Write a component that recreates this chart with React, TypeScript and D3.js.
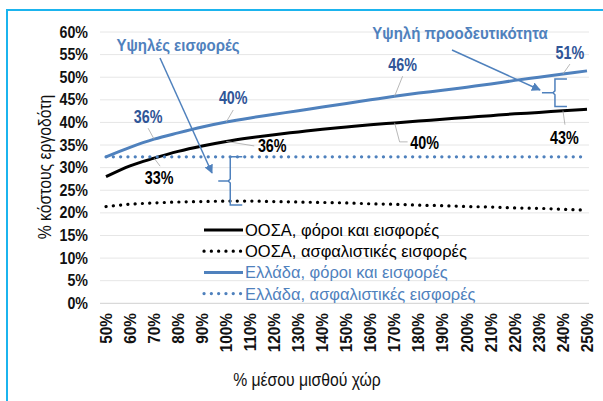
import * as d3 from 'd3'

// categories: % of average wage
const wageLevels = ['50%', '60%', '70%', '80%', '90%', '100%', '110%', '120%', '130%', '140%', '150%',
  '160%', '170%', '180%', '190%', '200%', '210%', '220%', '230%', '240%', '250%']

// series values (%)
const oecdTotal = [28.0, 30.4, 32.1, 33.6, 34.8, 35.8, 36.6, 37.3, 37.9, 38.5, 39.0,
  39.5, 39.9, 40.3, 40.7, 41.1, 41.5, 41.9, 42.2, 42.6, 42.9]
const oecdContrib = [21.4, 21.9, 22.2, 22.4, 22.5, 22.6, 22.6, 22.5, 22.4, 22.3, 22.2,
  22.0, 21.9, 21.7, 21.6, 21.4, 21.3, 21.1, 21.0, 20.8, 20.6]
const greeceTotal = [32.4, 34.5, 36.3, 37.7, 39.0, 40.1, 41.0, 41.8, 42.6, 43.4, 44.2,
  45.0, 45.8, 46.5, 47.1, 47.8, 48.5, 49.3, 50.0, 50.7, 51.4]
const greeceContrib = [32.4, 32.4, 32.4, 32.4, 32.4, 32.4, 32.4, 32.4, 32.4, 32.4, 32.4,
  32.4, 32.4, 32.4, 32.4, 32.4, 32.4, 32.4, 32.4, 32.4, 32.4]

const yTicks = [0, 5, 10, 15, 20, 25, 30, 35, 40, 45, 50, 55, 60]

const seriesNames = [
  'ΟΟΣΑ, φόροι και εισφορές',
  'ΟΟΣΑ, ασφαλιστικές εισφορές',
  'Ελλάδα, φόροι και εισφορές',
  'Ελλάδα, ασφαλιστικές εισφορές',
]

const BLACK = '#000000'
const BLUE = '#4F81BD'
const LABEL_BLUE = '#2F5597'
const FONT = '"Liberation Sans", Arial, sans-serif'

// data labels: series index, category, text, text offset, leader points
const dataLabels = [
  { s: 2, cat: '70%', text: '36%', tx: -6, ty: -22, leader: [[-6, -11]] },
  { s: 2, cat: '100%', text: '40%', tx: 7, ty: -24, leader: [[7, -12]] },
  { s: 2, cat: '170%', text: '46%', tx: 8, ty: -31, leader: [[8, -20]] },
  { s: 2, cat: '240%', text: '51%', tx: 7, ty: -21, leader: [[7, -10]] },
  { s: 0, cat: '70%', text: '33%', tx: 5, ty: 20, leader: [[6, 8]] },
  { s: 0, cat: '100%', text: '36%', tx: 46, ty: 4.5, leader: [[28, 4.5]] },
  { s: 0, cat: '170%', text: '40%', tx: 30, ty: 20, leader: [[5, 19], [13, 19]] },
  { s: 0, cat: '240%', text: '43%', tx: 1.5, ty: 27.5, leader: [[2, 14]] },
]

// text squeezed horizontally (the source uses a narrow face)
const T = ({ x, y, rot = 0, sx = 1, size, bold = false, fill = '#000', anchor = 'start', children }: any) => (
  <text transform={`translate(${x},${y}) rotate(${rot}) scale(${sx},1)`} dy='0.35em' textAnchor={anchor}
    fontFamily={FONT} fontWeight={bold ? 'bold' : 'normal'} fontSize={size} fill={fill}>{children}</text>
)

const App = () => {
  const width = 603
  const height = 401
  const plot = { left: 100, right: 589, top: 32, bottom: 303.3 }

  const x = d3.scalePoint<string>()
    .domain(wageLevels)
    .range([106, 587])
  const y = d3.scaleLinear()
    .domain([0, 60])
    .range([plot.bottom, plot.top])

  const all = [oecdTotal, oecdContrib, greeceTotal, greeceContrib]
  const styles = [
    { color: BLACK, dash: null },
    { color: BLACK, dash: '0.1 7.2' },
    { color: BLUE, dash: null },
    { color: BLUE, dash: '0.1 7.2' },
  ]

  const line = d3.line<number>()
    .x((_, i) => x(wageLevels[i]) as number)
    .y(d => y(d))
    .curve(d3.curveMonotoneX)

  // brace helper (left-pointing curly brace)
  const brace = (bx: number, y0: number, y1: number, arm: number, tip: number) => {
    const ym = (y0 + y1) / 2
    return `M${bx + arm},${y0} H${bx} V${ym - 2} L${bx - 2},${ym} H${bx - tip} M${bx - 2},${ym} L${bx},${ym + 2} V${y1} H${bx + arm}`
  }

  const b1x = (x('100%') as number) + 4
  const b2x = (x('240%') as number) - 8

  return (
    <svg width={width} height={height} style={{ position: 'absolute', left: 0, top: 0, background: '#fff' }}>
      <defs>
        <marker id='arr' viewBox='0 0 10 10' refX='9' refY='5' markerWidth='6' markerHeight='6' orient='auto'>
          <path d='M0,0 L10,5 L0,10 z' fill={BLUE} />
        </marker>
      </defs>

      {/* frame */}
      <path d={`M7,${height + 2} V10 H${width + 2}`} fill='none' stroke='#1BB4EE' strokeWidth={2} />

      {/* gridlines */}
      {yTicks.map(t => (
        <line key={t} x1={plot.left} x2={plot.right} y1={y(t)} y2={y(t)}
          stroke={t === 0 ? '#d0d0d0' : '#e6e6e6'} strokeWidth={1} />
      ))}

      {/* y tick labels */}
      {yTicks.map(t => (
        <T key={t} x={88} y={y(t)} anchor='end' sx={0.89} size={16} bold fill='#111'>{t}%</T>
      ))}

      {/* x tick labels */}
      {wageLevels.map(c => (
        <T key={c} x={x(c)} y={313} rot={-90} anchor='end' sx={0.93} size={16.5} bold fill='#111'>{c}</T>
      ))}

      {/* axis titles */}
      <T x={307} y={380} anchor='middle' sx={0.9} size={17.5} fill='#111'>% μέσου μισθού χώρ</T>
      <T x={45} y={167} rot={-90} anchor='middle' sx={0.9} size={17.5} fill='#111'>% κόστους εργοδότη</T>

      {/* series */}
      {all.map((s, i) => (
        <path key={i} d={line(s) || ''} fill='none' stroke={styles[i].color}
          strokeWidth={styles[i].dash ? 3.2 : 3}
          strokeDasharray={styles[i].dash || undefined}
          strokeLinecap={styles[i].dash ? 'round' : 'butt'} />
      ))}

      {/* data labels */}
      {dataLabels.map((l, k) => {
        const ax = x(l.cat) as number
        const ay = y(all[l.s][wageLevels.indexOf(l.cat)])
        const pts = [[0, 0], ...l.leader].map(p => `${ax + p[0]},${ay + p[1]}`).join(' L')
        return (
          <g key={k}>
            <path d={`M${pts}`} fill='none' stroke='#a6a6a6' strokeWidth={0.8} />
            <T x={ax + l.tx} y={ay + l.ty} anchor='middle' sx={0.82} size={17.5} bold
              fill={l.s === 2 ? LABEL_BLUE : '#000'}>{l.text}</T>
          </g>
        )
      })}

      {/* legend */}
      {seriesNames.map((n, i) => {
        const ly = 230 + i * 21.2
        return (
          <g key={n}>
            <line x1={204} x2={243} y1={ly} y2={ly} stroke={styles[i].color}
              strokeWidth={styles[i].dash ? 3.2 : 3}
              strokeDasharray={styles[i].dash || undefined}
              strokeLinecap={styles[i].dash ? 'round' : 'butt'} />
            <T x={245} y={ly} size={17} sx={0.97} fill={i < 2 ? '#000' : BLUE}>{n}</T>
          </g>
        )
      })}

      {/* annotations */}
      <T x={178} y={45} anchor='middle' sx={0.94} size={16} bold fill={BLUE}>Υψηλές εισφορές</T>
      <line x1={160} y1={58} x2={212} y2={173} stroke={BLUE} strokeWidth={1.5} markerEnd='url(#arr)' />
      <path d={brace(b1x, y(greeceContrib[5]), y(oecdContrib[5]) + 4, 12, 12)} fill='none' stroke={BLUE} strokeWidth={1.5} />

      <T x={460} y={33} anchor='middle' sx={0.94} size={16} bold fill={BLUE}>Υψηλή προοδευτικότητα</T>
      <line x1={452} y1={50} x2={540} y2={90} stroke={BLUE} strokeWidth={1.5} markerEnd='url(#arr)' />
      <path d={brace(b2x, y(49.6), y(43.5), 12, 13)} fill='none' stroke={BLUE} strokeWidth={1.5} />
    </svg>
  )
}

export default App
